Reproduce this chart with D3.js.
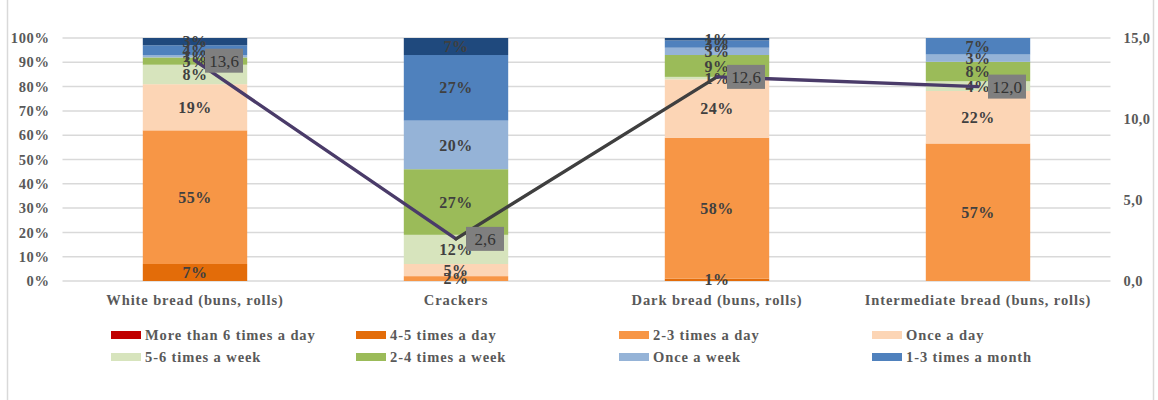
<!DOCTYPE html>
<html>
<head>
<meta charset="utf-8">
<script src="https://cdn.jsdelivr.net/npm/d3@7/dist/d3.min.js"></script>
<style>
  html, body { margin: 0; padding: 0; background: #fff; }
  svg { display: block; }
</style>
</head>
<body>
<svg id="chart" width="1158" height="400"></svg>
<script>
// Bread categories along the x axis
const categories = [
  "White bread (buns, rolls)",
  "Crackers",
  "Dark bread (buns, rolls)",
  "Intermediate bread (buns, rolls)"
];

// Consumption frequency series (percent of respondents), bottom to top
const moreThan6Day = [0, 0, 0, 0];
const times45Day   = [7, 0, 1, 0];
const times23Day   = [55, 2, 58, 56.6];
const onceDay      = [19, 5, 24, 21.6];
const times56Week  = [8, 12, 1, 4];
const times24Week  = [3, 27, 9, 8];
const onceWeek     = [1, 20, 3, 3];
const times13Month = [4, 27, 3, 6.8];
const lessOften    = [3, 7, 1, 0];

// Average frequency (right axis)
const averageScore = [13.6, 2.6, 12.6, 12.0];

// Tick labels
const leftTicks  = [0, 10, 20, 30, 40, 50, 60, 70, 80, 90, 100];
const rightTicks = [0, 5, 10, 15];

const seriesNames = [
  "More than 6 times a day", "4-5 times a day", "2-3 times a day", "Once a day",
  "5-6 times a week", "2-4 times a week", "Once a week", "1-3 times a month",
  "Less often"
];
const seriesValues = [
  moreThan6Day, times45Day, times23Day, onceDay,
  times56Week, times24Week, onceWeek, times13Month, lessOften
];
const seriesColors = [
  "#C00000", "#E36C09", "#F79646", "#FCD5B5",
  "#D7E4BD", "#9BBB59", "#95B3D7", "#4F81BD", "#1F497D"
];
const legendCount = 8;

const svg = d3.select("#chart");
const W = 1158, H = 400;
const plot = { left: 64.5, right: 1108.5, top: 38, bottom: 281 };

const textColor = "#595959";
const labelColor = "#404040";
const serif = "'Liberation Serif', 'Times New Roman', serif";

// Outer frame
svg.append("rect")
  .attr("x", 7.5).attr("y", -2)
  .attr("width", 1146).attr("height", H + 4)
  .attr("fill", "none").attr("stroke", "#D9D9D9").attr("stroke-width", 1.5);

const x = d3.scaleBand().domain(categories)
  .range([plot.left, plot.right]).paddingInner(0.6).paddingOuter(0.3);
const y = d3.scaleLinear().domain([0, 100]).range([plot.bottom, plot.top]);
const y2 = d3.scaleLinear().domain([0, 15]).range([plot.bottom, plot.top]);

// Gridlines
svg.append("g").selectAll("line").data(leftTicks).join("line")
  .attr("x1", plot.left - 2).attr("x2", plot.right + 2)
  .attr("y1", d => y(d)).attr("y2", d => y(d))
  .attr("stroke", "#D9D9D9").attr("stroke-width", 1.5);

// Left axis
const leftAxis = svg.append("g")
  .attr("transform", `translate(${plot.left - 15},0)`)
  .call(d3.axisLeft(y).tickValues(leftTicks).tickSize(0).tickPadding(0).tickFormat(d => d + "%"));
leftAxis.select(".domain").remove();
leftAxis.selectAll("text")
  .attr("font-family", serif).attr("font-weight", "bold")
  .attr("font-size", 14.5).attr("letter-spacing", 0.6).attr("fill", textColor);

// Right axis
const rightAxis = svg.append("g")
  .attr("transform", `translate(${plot.right + 14},0)`)
  .call(d3.axisRight(y2).tickValues(rightTicks).tickSize(0).tickPadding(1)
    .tickFormat(d => d3.format(".1f")(d).replace(".", ",")));
rightAxis.select(".domain").remove();
rightAxis.selectAll("text")
  .attr("font-family", serif).attr("font-weight", "bold")
  .attr("font-size", 14.5).attr("letter-spacing", 0.4).attr("fill", textColor);

// Stacked bars
const rows = categories.map((c, i) => {
  const r = { cat: c };
  seriesNames.forEach((s, j) => r[s] = seriesValues[j][i]);
  return r;
});
const stacked = d3.stack().keys(seriesNames)(rows);

const layers = svg.append("g").selectAll("g").data(stacked).join("g")
  .attr("fill", (d, i) => seriesColors[i]);
layers.selectAll("rect").data(d => d).join("rect")
  .attr("x", d => x(d.data.cat))
  .attr("width", x.bandwidth())
  .attr("y", d => y(d[1]))
  .attr("height", d => y(d[0]) - y(d[1]));

// Bar value labels
const labelG = svg.append("g");
stacked.forEach(layer => {
  layer.forEach(d => {
    const v = d[1] - d[0];
    if (v <= 0) return;
    labelG.append("text")
      .attr("x", x(d.data.cat) + x.bandwidth() / 2)
      .attr("y", y((d[0] + d[1]) / 2))
      .attr("dy", "0.35em")
      .attr("text-anchor", "middle")
      .attr("font-family", serif).attr("font-weight", "bold")
      .attr("font-size", 16).attr("letter-spacing", 0.5).attr("fill", labelColor)
      .text(Math.round(v) + "%");
  });
});

// Average line, drawn segment by segment
const segColors = ["#4A3B69", "#3F3F3F", "#4A3B69"];
const pts = categories.map((c, i) => [x(c) + x.bandwidth() / 2, y2(averageScore[i])]);
for (let i = 0; i < pts.length - 1; i++) {
  svg.append("line")
    .attr("x1", pts[i][0]).attr("y1", pts[i][1])
    .attr("x2", pts[i + 1][0]).attr("y2", pts[i + 1][1])
    .attr("stroke", segColors[i]).attr("stroke-width", 3.4)
    .attr("stroke-linecap", "round");
}

// Line value labels in grey boxes
const boxG = svg.append("g");
pts.forEach((p, i) => {
  const bx = p[0] + 10, bw = 38, bh = 24;
  boxG.append("rect")
    .attr("x", bx).attr("y", p[1] - bh / 2)
    .attr("width", bw).attr("height", bh)
    .attr("fill", "#7F7F7F");
  boxG.append("text")
    .attr("x", bx + bw / 2).attr("y", p[1])
    .attr("dy", "0.35em").attr("text-anchor", "middle")
    .attr("font-family", serif).attr("font-size", 17)
    .attr("fill", "#333333")
    .text(d3.format(".1f")(averageScore[i]).replace(".", ","));
});

// Category labels
svg.append("g").selectAll("text").data(categories).join("text")
  .attr("x", d => x(d) + x.bandwidth() / 2)
  .attr("y", 300)
  .attr("dy", "0.35em")
  .attr("text-anchor", "middle")
  .attr("font-family", serif).attr("font-weight", "bold")
  .attr("font-size", 14.5).attr("letter-spacing", 0.9).attr("fill", textColor)
  .text(d => d);

// Legend
const legendX = [111, 356, 619, 872];
const legendY = [335, 357];
const legend = svg.append("g");
seriesNames.slice(0, legendCount).forEach((name, i) => {
  const col = i % 4, row = Math.floor(i / 4);
  const g = legend.append("g")
    .attr("transform", `translate(${legendX[col]},${legendY[row]})`);
  g.append("rect")
    .attr("x", 0).attr("y", -4).attr("width", 30).attr("height", 8)
    .attr("fill", seriesColors[i]);
  g.append("text")
    .attr("x", 34).attr("y", 0).attr("dy", "0.35em")
    .attr("font-family", serif).attr("font-weight", "bold")
    .attr("font-size", 14.5).attr("letter-spacing", 0.9).attr("fill", textColor)
    .text(name);
});
</script>
</body>
</html>
